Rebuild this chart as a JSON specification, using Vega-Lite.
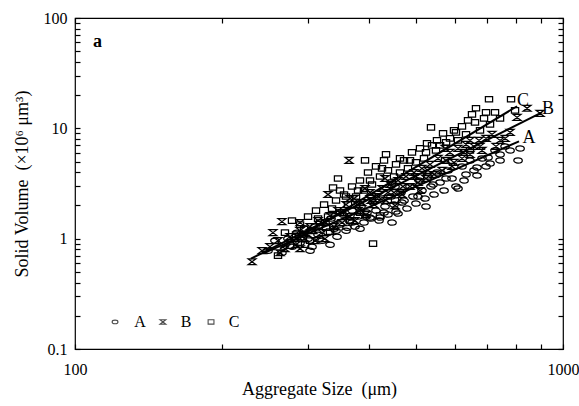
{
  "$schema": "https://vega.github.io/schema/vega-lite/v6.json",
  "width": 488,
  "height": 331,
  "autosize": {"type": "none"},
  "padding": {"left": 75, "top": 18, "right": 16, "bottom": 57},
  "background": "white",
  "config": {
    "font": "Liberation Serif",
    "view": {"stroke": "#000000", "strokeWidth": 1.2},
    "axis": {
      "grid": false,
      "domain": false,
      "ticks": true,
      "tickSize": 5,
      "offset": -5,
      "tickColor": "#000000",
      "tickWidth": 1.2,
      "labelColor": "#000000",
      "titleColor": "#000000",
      "labelFont": "Liberation Serif",
      "titleFont": "Liberation Serif",
      "labelFontSize": 16,
      "titleFontSize": 18,
      "titleFontWeight": "normal",
      "labelFlush": false,
      "labelOverlap": false
    },
    "text": {"font": "Liberation Serif", "color": "#000000"}
  },
  "datasets": {
    "points": [
      {"series": "A", "size": 248.6, "volume": 0.778}, {"series": "A", "size": 256.9, "volume": 0.959}, {"series": "A", "size": 265.5, "volume": 0.746}, {"series": "A", "size": 273.1, "volume": 1.0}, {"series": "A", "size": 278.4, "volume": 0.846},
      {"series": "A", "size": 285.1, "volume": 1.134}, {"series": "A", "size": 289.2, "volume": 0.92}, {"series": "A", "size": 296.1, "volume": 1.233}, {"series": "A", "size": 300.3, "volume": 1.0}, {"series": "A", "size": 306.0, "volume": 0.846},
      {"series": "A", "size": 310.3, "volume": 1.286}, {"series": "A", "size": 314.8, "volume": 1.087}, {"series": "A", "size": 320.8, "volume": 0.959}, {"series": "A", "size": 325.4, "volume": 1.398}, {"series": "A", "size": 330.0, "volume": 1.134},
      {"series": "A", "size": 334.7, "volume": 1.52}, {"series": "A", "size": 339.5, "volume": 1.233}, {"series": "A", "size": 344.3, "volume": 1.043}, {"series": "A", "size": 349.2, "volume": 1.341}, {"series": "A", "size": 354.2, "volume": 1.653},
      {"series": "A", "size": 359.2, "volume": 1.182}, {"series": "A", "size": 364.4, "volume": 1.458}, {"series": "A", "size": 369.6, "volume": 1.797}, {"series": "A", "size": 374.8, "volume": 1.286}, {"series": "A", "size": 380.2, "volume": 1.585},
      {"series": "A", "size": 385.5, "volume": 1.955}, {"series": "A", "size": 391.0, "volume": 1.398}, {"series": "A", "size": 396.6, "volume": 1.723}, {"series": "A", "size": 402.3, "volume": 1.552}, {"series": "A", "size": 408.1, "volume": 2.125},
      {"series": "A", "size": 413.8, "volume": 1.797}, {"series": "A", "size": 419.8, "volume": 1.458}, {"series": "A", "size": 425.7, "volume": 2.311}, {"series": "A", "size": 431.8, "volume": 1.955}, {"series": "A", "size": 437.9, "volume": 1.653},
      {"series": "A", "size": 444.2, "volume": 2.41}, {"series": "A", "size": 450.5, "volume": 2.038}, {"series": "A", "size": 459.1, "volume": 1.688}, {"series": "A", "size": 465.6, "volume": 2.62}, {"series": "A", "size": 472.3, "volume": 2.216},
      {"series": "A", "size": 479.0, "volume": 1.874}, {"series": "A", "size": 485.8, "volume": 2.971}, {"series": "A", "size": 492.7, "volume": 2.41}, {"series": "A", "size": 499.7, "volume": 2.081}, {"series": "A", "size": 506.9, "volume": 3.368},
      {"series": "A", "size": 514.1, "volume": 2.732}, {"series": "A", "size": 521.5, "volume": 2.311}, {"series": "A", "size": 528.9, "volume": 3.662}, {"series": "A", "size": 536.4, "volume": 2.971}, {"series": "A", "size": 544.1, "volume": 2.513},
      {"series": "A", "size": 551.8, "volume": 3.982}, {"series": "A", "size": 559.8, "volume": 3.23}, {"series": "A", "size": 570.5, "volume": 2.732}, {"series": "A", "size": 581.3, "volume": 4.152}, {"series": "A", "size": 592.3, "volume": 3.512},
      {"series": "A", "size": 603.5, "volume": 2.971}, {"series": "A", "size": 609.3, "volume": 2.849}, {"series": "A", "size": 620.9, "volume": 4.514}, {"series": "A", "size": 632.8, "volume": 3.819}, {"series": "A", "size": 644.8, "volume": 5.118},
      {"series": "A", "size": 657.1, "volume": 4.152}, {"series": "A", "size": 666.5, "volume": 4.42}, {"series": "A", "size": 666.5, "volume": 3.739}, {"series": "A", "size": 682.4, "volume": 5.337}, {"series": "A", "size": 702.0, "volume": 5.45},
      {"series": "A", "size": 708.7, "volume": 4.806}, {"series": "A", "size": 725.6, "volume": 6.31}, {"series": "A", "size": 743.0, "volume": 5.803}, {"series": "A", "size": 760.8, "volume": 6.86}, {"series": "A", "size": 778.9, "volume": 6.31},
      {"series": "A", "size": 808.9, "volume": 5.118}, {"series": "A", "size": 816.6, "volume": 6.579}, {"series": "A", "size": 360.9, "volume": 1.259}, {"series": "A", "size": 404.2, "volume": 1.52}, {"series": "A", "size": 421.7, "volume": 1.552},
      {"series": "A", "size": 454.8, "volume": 1.76}, {"series": "A", "size": 383.7, "volume": 1.233}, {"series": "A", "size": 333.1, "volume": 0.882}, {"series": "A", "size": 303.1, "volume": 0.778}, {"series": "A", "size": 452.7, "volume": 2.971},
      {"series": "A", "size": 293.3, "volume": 1.087}, {"series": "A", "size": 316.3, "volume": 1.0}, {"series": "A", "size": 342.7, "volume": 1.182}, {"series": "A", "size": 369.6, "volume": 1.398}, {"series": "A", "size": 394.7, "volume": 1.585},
      {"series": "A", "size": 429.8, "volume": 1.723}, {"series": "A", "size": 467.8, "volume": 2.125}, {"series": "A", "size": 504.5, "volume": 2.41}, {"series": "A", "size": 541.5, "volume": 3.098}, {"series": "A", "size": 575.9, "volume": 3.512},
      {"series": "A", "size": 626.9, "volume": 3.368}, {"series": "A", "size": 695.4, "volume": 4.514}, {"series": "A", "size": 743.0, "volume": 5.118}, {"series": "A", "size": 446.3, "volume": 1.398}, {"series": "A", "size": 523.9, "volume": 1.955},

      {"series": "B", "size": 230.6, "volume": 0.618}, {"series": "B", "size": 254.5, "volume": 1.134}, {"series": "B", "size": 265.5, "volume": 1.428}, {"series": "B", "size": 241.7, "volume": 0.778}, {"series": "B", "size": 250.9, "volume": 0.846},
      {"series": "B", "size": 260.6, "volume": 0.959}, {"series": "B", "size": 269.3, "volume": 0.811}, {"series": "B", "size": 275.8, "volume": 1.043}, {"series": "B", "size": 283.7, "volume": 0.882}, {"series": "B", "size": 289.2, "volume": 1.182},
      {"series": "B", "size": 296.1, "volume": 1.0}, {"series": "B", "size": 303.1, "volume": 1.286}, {"series": "B", "size": 310.3, "volume": 0.959}, {"series": "B", "size": 314.8, "volume": 1.458}, {"series": "B", "size": 320.8, "volume": 1.134},
      {"series": "B", "size": 330.0, "volume": 2.513}, {"series": "B", "size": 333.1, "volume": 1.618}, {"series": "B", "size": 339.5, "volume": 1.286}, {"series": "B", "size": 345.9, "volume": 1.797}, {"series": "B", "size": 352.5, "volume": 1.398},
      {"series": "B", "size": 359.2, "volume": 2.038}, {"series": "B", "size": 364.4, "volume": 5.118}, {"series": "B", "size": 366.1, "volume": 1.585}, {"series": "B", "size": 373.1, "volume": 2.311}, {"series": "B", "size": 380.2, "volume": 1.797},
      {"series": "B", "size": 387.3, "volume": 2.125}, {"series": "B", "size": 394.7, "volume": 1.653}, {"series": "B", "size": 402.3, "volume": 2.62}, {"series": "B", "size": 410.0, "volume": 2.038}, {"series": "B", "size": 417.8, "volume": 2.41},
      {"series": "B", "size": 425.7, "volume": 2.849}, {"series": "B", "size": 433.8, "volume": 2.216}, {"series": "B", "size": 442.1, "volume": 3.098}, {"series": "B", "size": 450.5, "volume": 2.62}, {"series": "B", "size": 459.1, "volume": 3.368},
      {"series": "B", "size": 467.8, "volume": 2.513}, {"series": "B", "size": 476.7, "volume": 3.662}, {"series": "B", "size": 485.8, "volume": 2.971}, {"series": "B", "size": 495.1, "volume": 3.982}, {"series": "B", "size": 504.5, "volume": 3.23},
      {"series": "B", "size": 514.1, "volume": 4.329}, {"series": "B", "size": 523.9, "volume": 3.512}, {"series": "B", "size": 533.9, "volume": 4.707}, {"series": "B", "size": 544.1, "volume": 3.819}, {"series": "B", "size": 554.5, "volume": 5.337},
      {"series": "B", "size": 565.1, "volume": 4.152}, {"series": "B", "size": 575.9, "volume": 5.118}, {"series": "B", "size": 586.7, "volume": 6.051}, {"series": "B", "size": 597.9, "volume": 4.908}, {"series": "B", "size": 609.3, "volume": 6.579},
      {"series": "B", "size": 620.9, "volume": 5.337}, {"series": "B", "size": 632.8, "volume": 7.153}, {"series": "B", "size": 644.8, "volume": 5.803}, {"series": "B", "size": 657.1, "volume": 6.86}, {"series": "B", "size": 672.8, "volume": 7.778},
      {"series": "B", "size": 682.4, "volume": 6.31}, {"series": "B", "size": 695.4, "volume": 8.111}, {"series": "B", "size": 715.4, "volume": 8.82}, {"series": "B", "size": 729.0, "volume": 6.86}, {"series": "B", "size": 743.0, "volume": 7.778},
      {"series": "B", "size": 760.8, "volume": 8.111}, {"series": "B", "size": 778.9, "volume": 9.197}, {"series": "B", "size": 805.1, "volume": 12.58}, {"series": "B", "size": 844.0, "volume": 15.2}, {"series": "B", "size": 897.4, "volume": 13.68},
      {"series": "B", "size": 325.4, "volume": 1.0}, {"series": "B", "size": 392.9, "volume": 2.849}, {"series": "B", "size": 452.7, "volume": 1.996}, {"series": "B", "size": 509.3, "volume": 2.732}, {"series": "B", "size": 573.2, "volume": 6.579},
      {"series": "B", "size": 263.0, "volume": 0.746}, {"series": "B", "size": 289.2, "volume": 0.811}, {"series": "B", "size": 374.8, "volume": 1.458}, {"series": "B", "size": 431.8, "volume": 3.512}, {"series": "B", "size": 644.8, "volume": 7.778},
      {"series": "B", "size": 286.4, "volume": 1.043}, {"series": "B", "size": 307.4, "volume": 1.182}, {"series": "B", "size": 326.9, "volume": 1.398}, {"series": "B", "size": 354.2, "volume": 1.723}, {"series": "B", "size": 378.4, "volume": 2.038},
      {"series": "B", "size": 404.2, "volume": 2.216}, {"series": "B", "size": 437.9, "volume": 2.62}, {"series": "B", "size": 470.0, "volume": 2.971}, {"series": "B", "size": 499.7, "volume": 3.662}, {"series": "B", "size": 528.9, "volume": 4.152},
      {"series": "B", "size": 592.3, "volume": 4.514}, {"series": "B", "size": 626.9, "volume": 6.051}, {"series": "B", "size": 676.0, "volume": 6.86}, {"series": "B", "size": 366.1, "volume": 2.311}, {"series": "B", "size": 289.2, "volume": 1.398},

      {"series": "C", "size": 260.6, "volume": 0.701}, {"series": "C", "size": 278.4, "volume": 1.458}, {"series": "C", "size": 275.8, "volume": 0.864}, {"series": "C", "size": 269.3, "volume": 1.134}, {"series": "C", "size": 283.7, "volume": 1.087},
      {"series": "C", "size": 289.2, "volume": 1.341}, {"series": "C", "size": 296.1, "volume": 0.882}, {"series": "C", "size": 300.3, "volume": 1.585}, {"series": "C", "size": 306.0, "volume": 1.182}, {"series": "C", "size": 311.8, "volume": 1.797},
      {"series": "C", "size": 317.8, "volume": 1.398}, {"series": "C", "size": 323.9, "volume": 2.038}, {"series": "C", "size": 330.0, "volume": 1.585}, {"series": "C", "size": 337.9, "volume": 2.909}, {"series": "C", "size": 345.9, "volume": 3.512},
      {"series": "C", "size": 342.7, "volume": 2.216}, {"series": "C", "size": 349.2, "volume": 1.723}, {"series": "C", "size": 355.9, "volume": 2.513}, {"series": "C", "size": 362.6, "volume": 2.038}, {"series": "C", "size": 369.6, "volume": 2.971},
      {"series": "C", "size": 376.6, "volume": 2.41}, {"series": "C", "size": 383.7, "volume": 3.368}, {"series": "C", "size": 392.9, "volume": 5.118}, {"series": "C", "size": 391.0, "volume": 2.732}, {"series": "C", "size": 398.5, "volume": 3.982},
      {"series": "C", "size": 406.1, "volume": 3.098}, {"series": "C", "size": 408.1, "volume": 0.901}, {"series": "C", "size": 413.8, "volume": 4.514}, {"series": "C", "size": 421.7, "volume": 3.662}, {"series": "C", "size": 429.8, "volume": 5.118},
      {"series": "C", "size": 433.8, "volume": 5.803}, {"series": "C", "size": 437.9, "volume": 4.152}, {"series": "C", "size": 446.3, "volume": 3.23}, {"series": "C", "size": 454.8, "volume": 4.707}, {"series": "C", "size": 463.4, "volume": 5.337},
      {"series": "C", "size": 463.4, "volume": 3.982}, {"series": "C", "size": 472.3, "volume": 5.118}, {"series": "C", "size": 481.2, "volume": 4.329}, {"series": "C", "size": 490.4, "volume": 6.051}, {"series": "C", "size": 499.7, "volume": 4.908},
      {"series": "C", "size": 509.3, "volume": 6.579}, {"series": "C", "size": 519.0, "volume": 5.337}, {"series": "C", "size": 526.4, "volume": 7.304}, {"series": "C", "size": 536.4, "volume": 10.21}, {"series": "C", "size": 539.0, "volume": 7.005},
      {"series": "C", "size": 549.2, "volume": 6.31}, {"series": "C", "size": 551.8, "volume": 7.778}, {"series": "C", "size": 567.8, "volume": 9.006}, {"series": "C", "size": 575.9, "volume": 7.459}, {"series": "C", "size": 586.7, "volume": 8.111},
      {"series": "C", "size": 597.9, "volume": 9.59}, {"series": "C", "size": 609.3, "volume": 7.778}, {"series": "C", "size": 620.9, "volume": 10.43}, {"series": "C", "size": 632.8, "volume": 8.82}, {"series": "C", "size": 650.9, "volume": 13.4},
      {"series": "C", "size": 663.3, "volume": 15.2}, {"series": "C", "size": 660.2, "volume": 11.34}, {"series": "C", "size": 676.0, "volume": 9.59}, {"series": "C", "size": 688.9, "volume": 12.32}, {"series": "C", "size": 705.3, "volume": 18.36},
      {"series": "C", "size": 708.7, "volume": 10.87}, {"series": "C", "size": 725.6, "volume": 13.97}, {"series": "C", "size": 743.0, "volume": 12.32}, {"series": "C", "size": 782.6, "volume": 18.36}, {"series": "C", "size": 797.5, "volume": 14.57},
      {"series": "C", "size": 421.7, "volume": 1.618}, {"series": "C", "size": 383.7, "volume": 1.723}, {"series": "C", "size": 452.7, "volume": 2.216}, {"series": "C", "size": 333.1, "volume": 1.158}, {"series": "C", "size": 326.9, "volume": 1.259},
      {"series": "C", "size": 509.3, "volume": 3.662}, {"series": "C", "size": 573.2, "volume": 5.118}, {"series": "C", "size": 644.8, "volume": 6.31}, {"series": "C", "size": 303.1, "volume": 0.959}, {"series": "C", "size": 366.1, "volume": 1.458},
      {"series": "C", "size": 294.7, "volume": 1.233}, {"series": "C", "size": 314.8, "volume": 1.52}, {"series": "C", "size": 336.3, "volume": 1.874}, {"series": "C", "size": 359.2, "volume": 2.41}, {"series": "C", "size": 380.2, "volume": 2.732},
      {"series": "C", "size": 402.3, "volume": 3.368}, {"series": "C", "size": 425.7, "volume": 4.329}, {"series": "C", "size": 450.5, "volume": 3.662}, {"series": "C", "size": 485.8, "volume": 5.118}, {"series": "C", "size": 523.9, "volume": 6.051},
      {"series": "C", "size": 559.8, "volume": 7.005}, {"series": "C", "size": 603.5, "volume": 9.197}, {"series": "C", "size": 638.8, "volume": 11.82}, {"series": "C", "size": 695.4, "volume": 13.97}, {"series": "C", "size": 349.2, "volume": 2.732}
    ],
    "fits": [
      {"series": "A", "size": 245.1, "volume": 0.746}, {"series": "A", "size": 812.6, "volume": 7.62},
      {"series": "B", "size": 229.4, "volume": 0.658}, {"series": "B", "size": 905.6, "volume": 13.98},
      {"series": "C", "size": 263.0, "volume": 0.811}, {"series": "C", "size": 805.0, "volume": 15.85}
    ],
    "tags": [
      {"series": "C", "size": 828.3, "volume": 17.6},
      {"series": "B", "size": 932.0, "volume": 14.88},
      {"series": "A", "size": 852.0, "volume": 8.111}
    ],
    "keyMarks": [
      {"series": "A", "size": 120.8, "volume": 0.176},
      {"series": "B", "size": 151.4, "volume": 0.176},
      {"series": "C", "size": 190.0, "volume": 0.176}
    ],
    "keyText": [
      {"series": "A", "size": 135.9, "volume": 0.176},
      {"series": "B", "size": 168.8, "volume": 0.176},
      {"series": "C", "size": 211.8, "volume": 0.176}
    ],
    "panel": [{"label": "a", "size": 108.9, "volume": 54.5}]
  },
  "layer": [
    {
      "data": {"name": "points"},
      "mark": {"type": "point", "filled": false, "stroke": "#000000", "strokeWidth": 1.25, "opacity": 1},
      "encoding": {
        "x": {
          "field": "size", "type": "quantitative",
          "scale": {"type": "log", "domain": [100, 1000]},
          "axis": {
            "orient": "bottom",
            "values": [100, 200, 300, 400, 500, 600, 700, 800, 900, 1000],
            "labelExpr": "datum.value == 100 || datum.value == 1000 ? '' + datum.value : ''",
            "labelPadding": 12,
            "title": "Aggregate Size \u00a0(μm)",
            "titlePadding": 3
          }
        },
        "y": {
          "field": "volume", "type": "quantitative",
          "scale": {"type": "log", "domain": [0.1, 100]},
          "axis": {
            "orient": "left",
            "values": [0.1, 0.2, 0.3, 0.4, 0.5, 0.6, 0.7, 0.8, 0.9, 1, 2, 3, 4, 5, 6, 7, 8, 9, 10, 20, 30, 40, 50, 60, 70, 80, 90, 100],
            "labelExpr": "datum.value == 0.1 || datum.value == 1 || datum.value == 10 || datum.value == 100 ? '' + datum.value : ''",
            "labelPadding": 8,
            "title": "Solid Volume \u00a0(×10⁶ μm³)",
            "titlePadding": 12
          }
        },
        "shape": {
          "field": "series", "type": "nominal",
          "scale": {
            "domain": ["A", "B", "C"],
            "range": [
              "M-1,0C-1,-0.34,-0.55,-0.62,0,-0.62C0.55,-0.62,1,-0.34,1,0C1,0.34,0.55,0.62,0,0.62C-0.55,0.62,-1,0.34,-1,0Z",
              "M-1,-0.75H1L-1,0.75H1Z",
              "M-1,-0.75H1V0.75H-1Z"
            ]
          },
          "legend": null
        },
        "size": {
          "field": "series", "type": "nominal",
          "scale": {"domain": ["A", "B", "C"], "range": [72, 52, 66]},
          "legend": null
        }
      }
    },
    {
      "data": {"name": "fits"},
      "mark": {"type": "line", "color": "#000000", "strokeWidth": 2},
      "encoding": {
        "x": {
          "field": "size", "type": "quantitative",
          "axis": {
            "orient": "top",
            "values": [100, 200, 300, 400, 500, 600, 700, 800, 900, 1000],
            "labels": false, "title": null
          }
        },
        "y": {
          "field": "volume", "type": "quantitative",
          "axis": {
            "orient": "right",
            "values": [0.1, 0.2, 0.3, 0.4, 0.5, 0.6, 0.7, 0.8, 0.9, 1, 2, 3, 4, 5, 6, 7, 8, 9, 10, 20, 30, 40, 50, 60, 70, 80, 90, 100],
            "labels": false, "title": null
          }
        },
        "detail": {"field": "series", "type": "nominal"}
      }
    },
    {
      "data": {"name": "tags"},
      "mark": {"type": "text", "fontSize": 18, "align": "center", "baseline": "middle"},
      "encoding": {
        "x": {"field": "size", "type": "quantitative", "axis": null},
        "y": {"field": "volume", "type": "quantitative", "axis": null},
        "text": {"field": "series", "type": "nominal"}
      }
    },
    {
      "data": {"name": "keyMarks"},
      "mark": {"type": "point", "filled": false, "stroke": "#000000", "strokeWidth": 1.1},
      "encoding": {
        "x": {"field": "size", "type": "quantitative", "axis": null},
        "y": {"field": "volume", "type": "quantitative", "axis": null},
        "shape": {"field": "series", "type": "nominal", "legend": null},
        "size": {"value": 34}
      }
    },
    {
      "data": {"name": "keyText"},
      "mark": {"type": "text", "fontSize": 16, "align": "center", "baseline": "middle"},
      "encoding": {
        "x": {"field": "size", "type": "quantitative", "axis": null},
        "y": {"field": "volume", "type": "quantitative", "axis": null},
        "text": {"field": "series", "type": "nominal"}
      }
    },
    {
      "data": {"name": "panel"},
      "mark": {"type": "text", "fontSize": 18, "fontWeight": "bold", "align": "left", "baseline": "alphabetic"},
      "encoding": {
        "x": {"field": "size", "type": "quantitative", "axis": null},
        "y": {"field": "volume", "type": "quantitative", "axis": null},
        "text": {"field": "label", "type": "nominal"}
      }
    }
  ]
}
